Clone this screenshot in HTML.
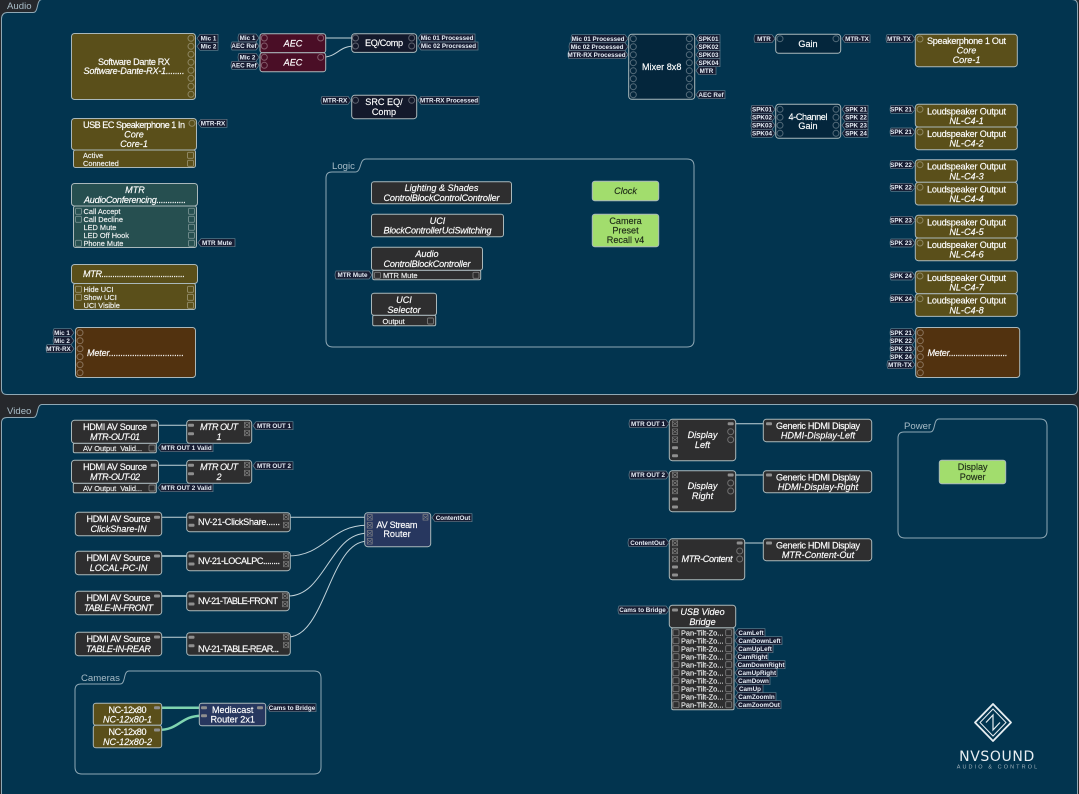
<!DOCTYPE html>
<html><head><meta charset="utf-8"><style>
html,body{margin:0;padding:0;background:#26282c;width:1079px;height:794px;overflow:hidden}
svg{display:block;font-family:"Liberation Sans",sans-serif}
.p{fill:#02344f;stroke:#8fa8b5;stroke-width:1}
.g{fill:none;stroke:#8fa8b5;stroke-width:1}
.gt{font-size:9.6px;fill:#a9bdc8}
.n rect{stroke:#a9b8bb;stroke-width:1}
.ol{fill:#5a4f1a}.nv{fill:#13192b}.dt{fill:#04263c}.ma{fill:#4a0e26}.te{fill:#264f50}.br{fill:#52320f}.gr{fill:#a2dd6d}.bl{fill:#27375f}.dk{fill:#2e2e2f}
.t text,text.t{font-size:9.1px;fill:#fff;stroke:#fff;stroke-width:.15;text-anchor:middle}
.i{font-style:italic}
.l{text-anchor:start!important}
.k text{fill:#1d2a18;stroke:#1d2a18}
.r text{font-size:7.4px;fill:#f0f2f2;stroke:#f0f2f2}
.tg path{fill:#171d33;stroke:#66808f;stroke-width:.7}
.tg text{font-size:6.3px;font-weight:bold;fill:#e6edf5;text-anchor:middle}
.w{fill:none;stroke:#c3d3da;stroke-width:1}
.wt{fill:none;stroke:#8fb0bd;stroke-width:2}
.wg{fill:none;stroke:#7fd4b0;stroke-width:2.5}
.pc{fill:none;stroke:#fff;stroke-opacity:.32;stroke-width:1}
.ps{fill:none;stroke:#fff;stroke-opacity:.36;stroke-width:.9}
.ph{fill:#8f8f8f}
.px{fill:none;stroke:#8a8a8a;stroke-width:.6}
</style></head><body>
<svg width="1079" height="794" viewBox="0 0 1079 794" xmlns="http://www.w3.org/2000/svg">
<defs>
<circle id="c" r="3" class="pc"/>
<rect id="s" x="-3" y="-3" width="6" height="6" rx="1" class="ps"/>
<rect id="h" x="-3" y="-1.5" width="6" height="3" rx="1" class="ph"/>
<g id="x" class="px"><rect x="-2.500" y="-2.800" width="5" height="5.600"/><path d="M-2.500-2L2.500 2M-2.500 2L2.500-2"/></g>
</defs>

<!-- panels -->
<path class="p" d="M1.5 19Q1.5 13 7 12.5L33 12.5C39 12.5 36 -.5 42 -.5L1072 -.5Q1077.500 -.5 1077.500 5L1077.500 389Q1077.500 394.500 1072 394.500L7 394.500Q1.500 394.500 1.500 389Z"/>
<path class="p" d="M1.5 423Q1.5 417.5 7 417.500L33 417.500C39 417.500 36 404.500 42 404.500L1072 404.500Q1077.500 404.500 1077.500 410L1077.500 800L1.500 800Z"/>
<text x="7" y="9" class="gt">Audio</text>
<text x="7" y="414" class="gt">Video</text>

<!-- groups -->
<path class="g" d="M326 178Q326 172 332 172L355 172C362 172 359 159 366 159L687 159Q694 159 694 166L694 340Q694 347 687 347L333 347Q326 347 326 340Z"/>
<text x="332" y="169" class="gt">Logic</text>
<path class="g" d="M898 438Q898 432 904 432L930 432C936 432 933 419 939 419L1040 419Q1047 419 1047 426L1047 531Q1047 538 1040 538L905 538Q898 538 898 531Z"/>
<text x="904" y="429" class="gt">Power</text>
<path class="g" d="M75 690Q75 684 81 684L120 684C126 684 123 671 129 671L314 671Q321 671 321 678L321 767Q321 774 314 774L82 774Q75 774 75 767Z"/>
<text x="81" y="681" class="gt">Cameras</text>

<!-- wires -->
<path class="w" d="M321 38H355"/>
<path class="w" d="M321 57.300C338 57.300 338 46 355 46"/>
<path class="w" d="M156 425.300H188M156 465.300H188M160 517.300H188M160 637.300H188"/>
<path class="wt" d="M160 556H188M160 596H188" />
<path class="w" d="M288 517.300H367"/>
<path class="w" d="M288 556C325 556 330 525.300 367 525.300"/>
<path class="w" d="M288 596C325 596 330 533.300 367 533.300"/>
<path class="w" d="M288 637C325 637 330 541.300 367 541.300"/>
<path class="w" d="M733 423.700H767M733 475H767M742 543H767"/>
<path class="wg" d="M158 707.700H202"/>
<path class="wg" d="M158 730C180 730 180 715.700 202 715.700"/>

<!-- audio left -->
<g class="n t">
<rect class="ol" x="71.500" y="33.500" width="124" height="66" rx="3"/>
<text x="134" y="65" textLength="72">Software Dante RX</text>
<text x="134" y="74" class="i" textLength="101">Software-Dante-RX-1........</text>

<rect class="ol" x="73.500" y="150" width="122" height="17.500" rx="2"/>
<rect class="ol" x="71.500" y="118.500" width="125" height="31.500" rx="3"/>
<text x="134" y="128" textLength="102">USB EC Speakerphone 1 In</text>
<text x="134" y="137.500" class="i">Core</text>
<text x="134" y="147" class="i">Core-1</text>

<rect class="te" x="73.500" y="206" width="123" height="41.500" rx="2"/>
<rect class="te" x="71.500" y="183.500" width="126" height="22.500" rx="3"/>
<text x="135" y="193" class="i">MTR</text>
<text x="84" y="203" class="i l" textLength="102">AudioConferencing.............</text>

<rect class="ol" x="73.500" y="283.500" width="122" height="26" rx="2"/>
<rect class="ol" x="71.500" y="264.500" width="126" height="19" rx="3"/>
<text x="83" y="277" class="i l" textLength="102">MTR......................................</text>

<rect class="br" x="75.500" y="327.500" width="120" height="50" rx="3"/>
<text x="87" y="356" class="i l" textLength="97">Meter................................</text>

<rect class="ma" x="260" y="33.700" width="65.700" height="19" rx="2.500"/>
<rect class="ma" x="260" y="52.700" width="65.700" height="19" rx="2.500"/>
<text x="293" y="46.500" class="i">AEC</text>
<text x="293" y="65.500" class="i">AEC</text>

<rect class="nv" x="351.700" y="33.700" width="65" height="18.700" rx="3"/>
<text x="384" y="46" textLength="38">EQ/Comp</text>
<rect class="nv" x="351.700" y="95.300" width="65" height="23.400" rx="3"/>
<text x="384" y="105">SRC EQ/</text>
<text x="384" y="115">Comp</text>

<rect class="dt" x="628.700" y="34.300" width="66" height="65" rx="3"/>
<text x="661.700" y="70">Mixer 8x8</text>
<rect class="dt" x="775.700" y="34.300" width="65" height="19" rx="3"/>
<text x="808" y="47">Gain</text>
<rect class="dt" x="775.700" y="104.300" width="65" height="34" rx="3"/>
<text x="808" y="120" textLength="39">4-Channel</text>
<text x="808" y="129">Gain</text>

<rect class="ol" x="915.300" y="34.300" width="102" height="32.400" rx="3"/>
<text x="966.500" y="44" textLength="79">Speakerphone 1 Out</text>
<text x="966.500" y="53.500" class="i">Core</text>
<text x="966.500" y="63" class="i">Core-1</text>

<rect class="ol" x="915.300" y="104.300" width="102" height="22.700" rx="3"/>
<text x="966.500" y="114.300" textLength="79">Loudspeaker Output</text><text x="966.500" y="124" class="i">NL-C4-1</text>
<rect class="ol" x="915.300" y="127" width="102" height="22.700" rx="3"/>
<text x="966.500" y="137" textLength="79">Loudspeaker Output</text><text x="966.500" y="146.700" class="i">NL-C4-2</text>
<rect class="ol" x="915.300" y="159.700" width="102" height="22.700" rx="3"/>
<text x="966.500" y="169.700" textLength="79">Loudspeaker Output</text><text x="966.500" y="179.400" class="i">NL-C4-3</text>
<rect class="ol" x="915.300" y="182.300" width="102" height="22.700" rx="3"/>
<text x="966.500" y="192.300" textLength="79">Loudspeaker Output</text><text x="966.500" y="202" class="i">NL-C4-4</text>
<rect class="ol" x="915.300" y="215.300" width="102" height="22.700" rx="3"/>
<text x="966.500" y="225.300" textLength="79">Loudspeaker Output</text><text x="966.500" y="235" class="i">NL-C4-5</text>
<rect class="ol" x="915.300" y="238" width="102" height="22.700" rx="3"/>
<text x="966.500" y="248" textLength="79">Loudspeaker Output</text><text x="966.500" y="257.700" class="i">NL-C4-6</text>
<rect class="ol" x="915.300" y="271" width="102" height="22.700" rx="3"/>
<text x="966.500" y="281" textLength="79">Loudspeaker Output</text><text x="966.500" y="290.700" class="i">NL-C4-7</text>
<rect class="ol" x="915.300" y="293.700" width="102" height="22.700" rx="3"/>
<text x="966.500" y="303.700" textLength="79">Loudspeaker Output</text><text x="966.500" y="313.400" class="i">NL-C4-8</text>

<rect class="br" x="915.700" y="327.500" width="104" height="50" rx="3"/>
<text x="927.500" y="356" class="i l" textLength="80">Meter..........................</text>

<!-- logic -->
<rect class="dk" x="371.500" y="181.700" width="140" height="22" rx="2.500"/>
<text x="441.500" y="191" class="i">Lighting &amp; Shades</text>
<text x="441.500" y="201" class="i" textLength="116">ControlBlockControlController</text>
<rect class="dk" x="371.500" y="214.300" width="132" height="22.400" rx="2.500"/>
<text x="437.500" y="224" class="i">UCI</text>
<text x="437.500" y="233.500" class="i" textLength="108">BlockControllerUciSwitching</text>
<rect class="dk" x="372.700" y="270.300" width="108" height="9.400" rx="1.500"/>
<rect class="dk" x="371.500" y="247.300" width="111" height="23" rx="2.500"/>
<text x="427" y="257" class="i">Audio</text>
<text x="427" y="267" class="i" textLength="87">ControlBlockController</text>
<rect class="dk" x="372.700" y="315.300" width="63" height="10.400" rx="1.500"/>
<rect class="dk" x="371.500" y="293.300" width="65" height="22" rx="2.500"/>
<text x="404" y="303" class="i">UCI</text>
<text x="404" y="313" class="i">Selector</text>
<g class="k">
<rect class="gr" x="592.300" y="181.300" width="66.400" height="19.400" rx="2.500"/>
<text x="625.500" y="194" class="i">Clock</text>
<rect class="gr" x="592.300" y="214.300" width="66.400" height="32.400" rx="2.500"/>
<text x="625.500" y="224">Camera</text>
<text x="625.500" y="233.500">Preset</text>
<text x="625.500" y="243">Recall v4</text>
<rect class="gr" x="939.300" y="460.300" width="66.400" height="23.400" rx="2.500"/>
<text x="972.700" y="470">Display</text>
<text x="972.700" y="480">Power</text>
</g>

<!-- video -->
<rect class="dk" x="73.300" y="443.300" width="83" height="9.400" rx="1.500"/>
<rect class="dk" x="71.500" y="420.300" width="87" height="23" rx="3"/>
<text x="115" y="430" textLength="64">HDMI AV Source</text>
<text x="115" y="440" class="i" textLength="50">MTR-OUT-01</text>
<rect class="dk" x="186.700" y="420.300" width="65" height="23" rx="3"/>
<text x="219" y="430" class="i" textLength="38">MTR OUT</text>
<text x="219" y="440" class="i">1</text>
<rect class="dk" x="73.300" y="483.300" width="83" height="9.400" rx="1.500"/>
<rect class="dk" x="71.500" y="460.300" width="87" height="23" rx="3"/>
<text x="115" y="470" textLength="64">HDMI AV Source</text>
<text x="115" y="480" class="i" textLength="50">MTR-OUT-02</text>
<rect class="dk" x="186.700" y="460.300" width="65" height="23" rx="3"/>
<text x="219" y="470" class="i" textLength="38">MTR OUT</text>
<text x="219" y="480" class="i">2</text>

<rect class="dk" x="75.300" y="512.300" width="86.400" height="23.400" rx="3"/>
<text x="118.500" y="522" textLength="64">HDMI AV Source</text>
<text x="118.500" y="532" class="i">ClickShare-IN</text>
<rect class="dk" x="75.300" y="551.300" width="86.400" height="23.400" rx="3"/>
<text x="118.500" y="561" textLength="64">HDMI AV Source</text>
<text x="118.500" y="571" class="i">LOCAL-PC-IN</text>
<rect class="dk" x="75.300" y="591.300" width="86.400" height="23.400" rx="3"/>
<text x="118.500" y="601" textLength="64">HDMI AV Source</text>
<text x="118.500" y="611" class="i" textLength="69">TABLE-IN-FRONT</text>
<rect class="dk" x="75.300" y="632.300" width="86.400" height="23.400" rx="3"/>
<text x="118.500" y="642" textLength="64">HDMI AV Source</text>
<text x="118.500" y="652" class="i" textLength="65">TABLE-IN-REAR</text>

<rect class="dk" x="186.700" y="512.700" width="103.600" height="19" rx="3"/>
<text x="198" y="525" class="l" textLength="82">NV-21-ClickShare......</text>
<rect class="dk" x="186.700" y="551.700" width="103.600" height="19" rx="3"/>
<text x="198" y="564" class="l" textLength="82">NV-21-LOCALPC........</text>
<rect class="dk" x="186.700" y="591.700" width="102.600" height="19" rx="3"/>
<text x="198" y="604" class="l" textLength="80">NV-21-TABLE-FRONT</text>
<rect class="dk" x="186.700" y="632.700" width="103.600" height="22.600" rx="3"/>
<text x="198" y="652" class="l" textLength="81">NV-21-TABLE-REAR...</text>

<rect class="bl" x="364.700" y="512.700" width="66" height="34" rx="3"/>
<text x="397" y="528" textLength="41">AV Stream</text>
<text x="397" y="537">Router</text>

<rect class="ol" x="93.300" y="703.300" width="68.400" height="22" rx="2.500"/>
<text x="127.500" y="713" textLength="38">NC-12x80</text>
<text x="127.500" y="722.500" class="i">NC-12x80-1</text>
<rect class="ol" x="93.300" y="725.300" width="68.400" height="22.400" rx="2.500"/>
<text x="127.500" y="735" textLength="38">NC-12x80</text>
<text x="127.500" y="745" class="i">NC-12x80-2</text>
<rect class="bl" x="199.300" y="703.300" width="66.400" height="22.400" rx="2.500"/>
<text x="232.700" y="713">Mediacast</text>
<text x="232.700" y="722.500">Router 2x1</text>

<rect class="dk" x="669.300" y="419.300" width="66.400" height="41.400" rx="3"/>
<text x="702.500" y="438" class="i">Display</text>
<text x="702.500" y="448" class="i">Left</text>
<rect class="dk" x="669.300" y="470.700" width="66.400" height="41" rx="3"/>
<text x="702.500" y="489" class="i">Display</text>
<text x="702.500" y="499" class="i">Right</text>
<rect class="dk" x="669.300" y="538.700" width="75.400" height="41" rx="3"/>
<text x="707" y="562" class="i" textLength="51">MTR-Content</text>

<rect class="dk" x="763.300" y="419.300" width="108.400" height="22.400" rx="3"/>
<text x="818" y="429" textLength="84">Generic HDMI Display</text>
<text x="818" y="438.500" class="i">HDMI-Display-Left</text>
<rect class="dk" x="763.300" y="470.700" width="108.400" height="22" rx="3"/>
<text x="818" y="480.500" textLength="84">Generic HDMI Display</text>
<text x="818" y="490" class="i">HDMI-Display-Right</text>
<rect class="dk" x="763.300" y="538.700" width="108.400" height="22" rx="3"/>
<text x="818" y="548.500" textLength="84">Generic HDMI Display</text>
<text x="818" y="558" class="i">MTR-Content-Out</text>

<rect class="dk" x="671.700" y="627.700" width="62.300" height="82" rx="1.500"/>
<rect class="dk" x="669.300" y="605.300" width="66.400" height="22.400" rx="3"/>
<text x="702.500" y="615" class="i">USB Video</text>
<text x="702.500" y="625" class="i">Bridge</text>
</g>

<!-- row labels -->
<g class="r t">
<text x="83" y="158" class="l">Active</text>
<text x="83" y="166" class="l">Connected</text>
<text x="83.500" y="214" class="l">Call Accept</text>
<text x="83.500" y="222" class="l">Call Decline</text>
<text x="83.500" y="230" class="l">LED Mute</text>
<text x="83.500" y="238" class="l">LED Off Hook</text>
<text x="83.500" y="246" class="l">Phone Mute</text>
<text x="83.500" y="292" class="l">Hide UCI</text>
<text x="83.500" y="300" class="l">Show UCI</text>
<text x="83.500" y="308" class="l">UCI Visible</text>
<text x="383" y="278" class="l">MTR Mute</text>
<text x="382.500" y="324" class="l">Output</text>
<text x="83" y="451" class="l" textLength="59">AV Output&#160;&#160;Valid...</text>
<text x="83" y="491" class="l" textLength="59">AV Output&#160;&#160;Valid...</text>
<text x="681" y="635.400" class="l">Pan-Tilt-Zo...</text>
<text x="681" y="643.400" class="l">Pan-Tilt-Zo...</text>
<text x="681" y="651.400" class="l">Pan-Tilt-Zo...</text>
<text x="681" y="659.400" class="l">Pan-Tilt-Zo...</text>
<text x="681" y="667.400" class="l">Pan-Tilt-Zo...</text>
<text x="681" y="675.400" class="l">Pan-Tilt-Zo...</text>
<text x="681" y="683.400" class="l">Pan-Tilt-Zo...</text>
<text x="681" y="691.400" class="l">Pan-Tilt-Zo...</text>
<text x="681" y="699.400" class="l">Pan-Tilt-Zo...</text>
<text x="681" y="707.400" class="l">Pan-Tilt-Zo...</text>
</g>

<!-- circle ports -->
<g>
<use href="#c" x="191" y="38.300"/><use href="#c" x="191" y="46.300"/><use href="#c" x="191" y="54.300"/><use href="#c" x="191" y="62.300"/><use href="#c" x="191" y="70.300"/><use href="#c" x="191" y="78.300"/><use href="#c" x="191" y="86.300"/><use href="#c" x="191" y="94.300"/>
<use href="#c" x="192" y="123.300"/>
<use href="#c" x="80" y="332.700"/><use href="#c" x="80" y="340.700"/><use href="#c" x="80" y="348.700"/><use href="#c" x="80" y="356.700"/><use href="#c" x="80" y="364.700"/><use href="#c" x="80" y="372.700"/>
<use href="#c" x="264.300" y="38"/><use href="#c" x="264.300" y="46"/><use href="#c" x="264.300" y="57.300"/><use href="#c" x="264.300" y="65.300"/><use href="#c" x="320.700" y="38"/><use href="#c" x="320.700" y="57.300"/>
<use href="#c" x="355.500" y="38"/><use href="#c" x="355.500" y="46"/><use href="#c" x="411.700" y="38"/><use href="#c" x="411.700" y="46"/>
<use href="#c" x="355.500" y="100.300"/><use href="#c" x="411.700" y="100.300"/>
<use href="#c" x="633.300" y="38.700"/><use href="#c" x="633.300" y="46.700"/><use href="#c" x="633.300" y="54.700"/><use href="#c" x="633.300" y="62.700"/><use href="#c" x="633.300" y="70.700"/><use href="#c" x="633.300" y="78.700"/><use href="#c" x="633.300" y="86.700"/><use href="#c" x="633.300" y="94.700"/>
<use href="#c" x="689.300" y="38.700"/><use href="#c" x="689.300" y="46.700"/><use href="#c" x="689.300" y="54.700"/><use href="#c" x="689.300" y="62.700"/><use href="#c" x="689.300" y="70.700"/><use href="#c" x="689.300" y="78.700"/><use href="#c" x="689.300" y="86.700"/><use href="#c" x="689.300" y="94.700"/>
<use href="#c" x="780" y="38.700"/><use href="#c" x="836" y="38.700"/>
<use href="#c" x="780" y="109.300"/><use href="#c" x="780" y="117.300"/><use href="#c" x="780" y="125.300"/><use href="#c" x="780" y="133.300"/>
<use href="#c" x="836" y="109.300"/><use href="#c" x="836" y="117.300"/><use href="#c" x="836" y="125.300"/><use href="#c" x="836" y="133.300"/>
<use href="#c" x="920" y="39"/>
<use href="#c" x="920" y="109.300"/><use href="#c" x="920" y="132"/><use href="#c" x="920" y="164.700"/><use href="#c" x="920" y="187.300"/><use href="#c" x="920" y="220.300"/><use href="#c" x="920" y="243"/><use href="#c" x="920" y="276"/><use href="#c" x="920" y="298.700"/>
<use href="#c" x="920.300" y="332.700"/><use href="#c" x="920.300" y="340.700"/><use href="#c" x="920.300" y="348.700"/><use href="#c" x="920.300" y="356.700"/><use href="#c" x="920.300" y="364.700"/><use href="#c" x="920.300" y="372.700"/>
<use href="#c" x="730.700" y="431.700"/><use href="#c" x="730.700" y="439.700"/><use href="#c" x="730.700" y="483"/><use href="#c" x="730.700" y="491"/><use href="#c" x="739.700" y="551"/><use href="#c" x="739.700" y="559"/>
</g>

<!-- square ports -->
<g>
<use href="#s" x="190.500" y="155.300"/><use href="#s" x="190.500" y="163.300"/>
<use href="#s" x="78.500" y="211.300"/><use href="#s" x="78.500" y="219.300"/><use href="#s" x="78.500" y="243.300"/>
<use href="#s" x="191.500" y="211.300"/><use href="#s" x="191.500" y="219.300"/><use href="#s" x="191.500" y="227.300"/><use href="#s" x="191.500" y="235.300"/><use href="#s" x="191.500" y="243.300"/>
<use href="#s" x="78.500" y="289.300"/><use href="#s" x="78.500" y="297.300"/>
<use href="#s" x="190.500" y="289.300"/><use href="#s" x="190.500" y="297.300"/><use href="#s" x="190.500" y="305.300"/>
<use href="#s" x="377.500" y="275.300"/><use href="#s" x="476" y="275.300"/><use href="#s" x="430.500" y="321"/>
<use href="#s" x="152" y="448"/><use href="#s" x="152" y="488"/>
<use href="#s" x="676" y="632.700"/><use href="#s" x="676" y="640.700"/><use href="#s" x="676" y="648.700"/><use href="#s" x="676" y="656.700"/><use href="#s" x="676" y="664.700"/><use href="#s" x="676" y="672.700"/><use href="#s" x="676" y="680.700"/><use href="#s" x="676" y="688.700"/><use href="#s" x="676" y="696.700"/><use href="#s" x="676" y="704.700"/>
<use href="#s" x="728.700" y="632.700"/><use href="#s" x="728.700" y="640.700"/><use href="#s" x="728.700" y="648.700"/><use href="#s" x="728.700" y="656.700"/><use href="#s" x="728.700" y="664.700"/><use href="#s" x="728.700" y="672.700"/><use href="#s" x="728.700" y="680.700"/><use href="#s" x="728.700" y="688.700"/><use href="#s" x="728.700" y="696.700"/><use href="#s" x="728.700" y="704.700"/>
</g>

<!-- hdmi ports -->
<g>
<use href="#h" x="153.700" y="425.300"/><use href="#h" x="153.700" y="465.300"/>
<use href="#h" x="191" y="425.300"/><use href="#h" x="191" y="433.700"/><use href="#h" x="191" y="465.300"/><use href="#h" x="191" y="473.700"/>
<use href="#h" x="157" y="517.300"/><use href="#h" x="157" y="556"/><use href="#h" x="157" y="596"/><use href="#h" x="157" y="637"/>
<use href="#h" x="191.500" y="517.300"/><use href="#h" x="191.500" y="525.300"/><use href="#h" x="191.500" y="556"/><use href="#h" x="191.500" y="564"/><use href="#h" x="191.500" y="596"/><use href="#h" x="191.500" y="604"/><use href="#h" x="191.500" y="637.300"/><use href="#h" x="191.500" y="645.700"/>
<use href="#h" x="675" y="447.700"/><use href="#h" x="675" y="455.700"/><use href="#h" x="675" y="499"/><use href="#h" x="675" y="507"/><use href="#h" x="675" y="567"/><use href="#h" x="675" y="575"/>
<use href="#h" x="730.700" y="423.700"/><use href="#h" x="730.700" y="475"/><use href="#h" x="739.700" y="543"/>
<use href="#h" x="769" y="423.700"/><use href="#h" x="769" y="475"/><use href="#h" x="769" y="543"/>
<use href="#h" x="157" y="707.700"/><use href="#h" x="157" y="730"/><use href="#h" x="204" y="707.700"/><use href="#h" x="204" y="715.700"/><use href="#h" x="260" y="707.700"/><use href="#h" x="675" y="610"/>
</g>

<!-- x ports -->
<g>
<use href="#x" x="247" y="425"/><use href="#x" x="247" y="433"/><use href="#x" x="247" y="465"/><use href="#x" x="247" y="473"/>
<use href="#x" x="286" y="517"/><use href="#x" x="286" y="525"/><use href="#x" x="286" y="556"/><use href="#x" x="286" y="564"/><use href="#x" x="285" y="596"/><use href="#x" x="285" y="604"/><use href="#x" x="286" y="637"/><use href="#x" x="286" y="645"/>
<use href="#x" x="369.700" y="517.300"/><use href="#x" x="369.700" y="525.300"/><use href="#x" x="369.700" y="533.300"/><use href="#x" x="369.700" y="541.300"/><use href="#x" x="425.500" y="517.300"/>
<use href="#x" x="675" y="423.700"/><use href="#x" x="675" y="431.700"/><use href="#x" x="675" y="439.700"/>
<use href="#x" x="675" y="475"/><use href="#x" x="675" y="483"/><use href="#x" x="675" y="491"/>
<use href="#x" x="675" y="543"/><use href="#x" x="675" y="551"/><use href="#x" x="675" y="559"/>
</g>

<!-- tags -->
<g class="tg">
<path d="M197 38.300l3-4H218v8H200z"/><text x="208.500" y="40.500">Mic 1</text>
<path d="M197 46.300l3-4H218v8H200z"/><text x="208.500" y="48.500">Mic 2</text>
<path d="M198 123.300l3-4H227v8H201z"/><text x="213" y="125.500">MTR-RX</text>
<path d="M198 242.700l3-4H235v8H201z"/><text x="217" y="244.900">MTR Mute</text>

<path d="M74 332.700l-3-4H54q-2 4 0 8H71z"/><text x="62" y="334.900">Mic 1</text>
<path d="M74 340.700l-3-4H54q-2 4 0 8H71z"/><text x="62" y="342.900">Mic 2</text>
<path d="M74 348.700l-3-4H47q-2 4 0 8H71z"/><text x="58.500" y="350.900">MTR-RX</text>

<path d="M259 38l-3-4H239q-2 4 0 8H256z"/><text x="247.500" y="40.200">Mic 1</text>
<path d="M259 46l-3-4H232q-2 4 0 8H256z"/><text x="244" y="48.200">AEC Ref</text>
<path d="M259 57.300l-3-4H239q-2 4 0 8H256z"/><text x="247.500" y="59.500">Mic 2</text>
<path d="M259 65.300l-3-4H232q-2 4 0 8H256z"/><text x="244" y="67.500">AEC Ref</text>

<path d="M418 38l3-4H475v8H421z"/><text x="447" y="40.200">Mic 01 Processed</text>
<path d="M418 46l3-4H478v8H421z"/><text x="448.500" y="48.200">Mic 02 Procressed</text>
<path d="M351 100.300l-3-4H322q-2 4 0 8H348z"/><text x="335" y="102.500">MTR-RX</text>
<path d="M418 100.300l3-4H479v8H421z"/><text x="449" y="102.500">MTR-RX Processed</text>

<path d="M628 38.700l-3-4H572q-2 4 0 8H625z"/><text x="598" y="40.900">Mic 01 Processed</text>
<path d="M628 46.700l-3-4H570q-2 4 0 8H625z"/><text x="597" y="48.900">Mic 02 Processed</text>
<path d="M628 54.700l-3-4H569q-2 4 0 8H625z"/><text x="596.500" y="56.900">MTR-RX Processed</text>

<path d="M696 38.700l3-4H720v8H699z"/><text x="708.500" y="40.900">SPK01</text>
<path d="M696 46.700l3-4H720v8H699z"/><text x="708.500" y="48.900">SPK02</text>
<path d="M696 54.700l3-4H720v8H699z"/><text x="708.500" y="56.900">SPK03</text>
<path d="M696 62.700l3-4H720v8H699z"/><text x="708.500" y="64.900">SPK04</text>
<path d="M696 70.700l3-4H716v8H699z"/><text x="706.500" y="72.900">MTR</text>
<path d="M696 94.700l3-4H725v8H699z"/><text x="711" y="96.900">AEC Ref</text>

<path d="M775 38.700l-3-4H755q-2 4 0 8H772z"/><text x="764" y="40.900">MTR</text>
<path d="M842 38.700l3-4H870v8H845z"/><text x="857" y="40.900">MTR-TX</text>

<path d="M775 109.300l-3-4H752q-2 4 0 8H772z"/><text x="762" y="111.500">SPK01</text>
<path d="M775 117.300l-3-4H752q-2 4 0 8H772z"/><text x="762" y="119.500">SPK02</text>
<path d="M775 125.300l-3-4H752q-2 4 0 8H772z"/><text x="762" y="127.500">SPK03</text>
<path d="M775 133.300l-3-4H752q-2 4 0 8H772z"/><text x="762" y="135.500">SPK04</text>
<path d="M842 109.300l3-4H868v8H845z"/><text x="856" y="111.500">SPK 21</text>
<path d="M842 117.300l3-4H868v8H845z"/><text x="856" y="119.500">SPK 22</text>
<path d="M842 125.300l3-4H868v8H845z"/><text x="856" y="127.500">SPK 23</text>
<path d="M842 133.300l3-4H868v8H845z"/><text x="856" y="135.500">SPK 24</text>

<path d="M915 38.700l-3-4H887q-2 4 0 8H912z"/><text x="899" y="40.900">MTR-TX</text>
<path d="M915 109.300l-3-4H891q-2 4 0 8H912z"/><text x="901" y="111.500">SPK 21</text>
<path d="M915 132l-3-4H891q-2 4 0 8H912z"/><text x="901" y="134.200">SPK 21</text>
<path d="M915 164.700l-3-4H891q-2 4 0 8H912z"/><text x="901" y="166.900">SPK 22</text>
<path d="M915 187.300l-3-4H891q-2 4 0 8H912z"/><text x="901" y="189.500">SPK 22</text>
<path d="M915 220.300l-3-4H891q-2 4 0 8H912z"/><text x="901" y="222.500">SPK 23</text>
<path d="M915 243l-3-4H891q-2 4 0 8H912z"/><text x="901" y="245.200">SPK 23</text>
<path d="M915 276l-3-4H891q-2 4 0 8H912z"/><text x="901" y="278.200">SPK 24</text>
<path d="M915 298.700l-3-4H891q-2 4 0 8H912z"/><text x="901" y="300.900">SPK 24</text>
<path d="M915 332.700l-3-4H891q-2 4 0 8H912z"/><text x="901" y="334.900">SPK 21</text>
<path d="M915 340.700l-3-4H891q-2 4 0 8H912z"/><text x="901" y="342.900">SPK 22</text>
<path d="M915 348.700l-3-4H891q-2 4 0 8H912z"/><text x="901" y="350.900">SPK 23</text>
<path d="M915 356.700l-3-4H891q-2 4 0 8H912z"/><text x="901" y="358.900">SPK 24</text>
<path d="M915 364.700l-3-4H888q-2 4 0 8H912z"/><text x="900" y="366.900">MTR-TX</text>

<path d="M372 275l-3-4H336q-2 4 0 8H369z"/><text x="352.500" y="277.200">MTR Mute</text>

<path d="M253 425.700l3-4H293v8H256z"/><text x="274" y="427.900">MTR OUT 1</text>
<path d="M253 465.700l3-4H293v8H256z"/><text x="274" y="467.900">MTR OUT 2</text>
<path d="M158 447.700l3-4H213v8H161z"/><text x="186.500" y="449.900">MTR OUT 1 Valid</text>
<path d="M158 487.700l3-4H213v8H161z"/><text x="186.500" y="489.900">MTR OUT 2 Valid</text>
<path d="M432 517.700l3-4H472v8H435z"/><text x="453" y="519.900">ContentOut</text>
<path d="M267 707.700l3-4H316v8H270z"/><text x="292" y="709.900">Cams to Bridge</text>

<path d="M669 423.700l-3-4H630q-2 4 0 8H666z"/><text x="648" y="425.900">MTR OUT 1</text>
<path d="M669 475l-3-4H630q-2 4 0 8H666z"/><text x="648" y="477.200">MTR OUT 2</text>
<path d="M669 542.700l-3-4H629q-2 4 0 8H666z"/><text x="647.500" y="544.900">ContentOut</text>
<path d="M669 610l-3-4H619q-2 4 0 8H666z"/><text x="642.500" y="612.200">Cams to Bridge</text>

<path d="M735 632.700l3-4H765v8H738z"/><text x="751" y="634.900">CamLeft</text>
<path d="M735 640.700l3-4H782v8H738z"/><text x="759.500" y="642.900">CamDownLeft</text>
<path d="M735 648.700l3-4H773v8H738z"/><text x="755" y="650.900">CamUpLeft</text>
<path d="M735 656.700l3-4H768v8H738z"/><text x="752.500" y="658.900">CamRight</text>
<path d="M735 664.700l3-4H785v8H738z"/><text x="761" y="666.900">CamDownRight</text>
<path d="M735 672.700l3-4H777v8H738z"/><text x="757" y="674.900">CamUpRight</text>
<path d="M735 680.700l3-4H770v8H738z"/><text x="753.500" y="682.900">CamDown</text>
<path d="M735 688.700l3-4H763v8H738z"/><text x="750" y="690.900">CamUp</text>
<path d="M735 696.700l3-4H776v8H738z"/><text x="756.500" y="698.900">CamZoomIn</text>
<path d="M735 704.700l3-4H781v8H738z"/><text x="759" y="706.900">CamZoomOut</text>
</g>

<!-- logo -->
<g fill="none" stroke="#e8eef2">
<path stroke-width="1.800" d="M993 704L1011 722.500L993 741L975 722.500Z" stroke-linejoin="round"/>
<path stroke-width="1" d="M993 709L1006 722.500L993 736L980 722.500Z"/>
<path stroke-width="1.200" d="M986 722.500L993 715V730L1000 722.500"/>
</g>
<text x="997" y="761" text-anchor="middle" font-size="14" letter-spacing=".6" fill="#e8eef2" font-family="'DejaVu Sans',sans-serif">NVSOUND</text>
<text x="998" y="768.500" text-anchor="middle" font-size="5.500" letter-spacing="2.100" fill="#9fb0ba">AUDIO &amp; CONTROL</text>
</svg>
</body></html>
